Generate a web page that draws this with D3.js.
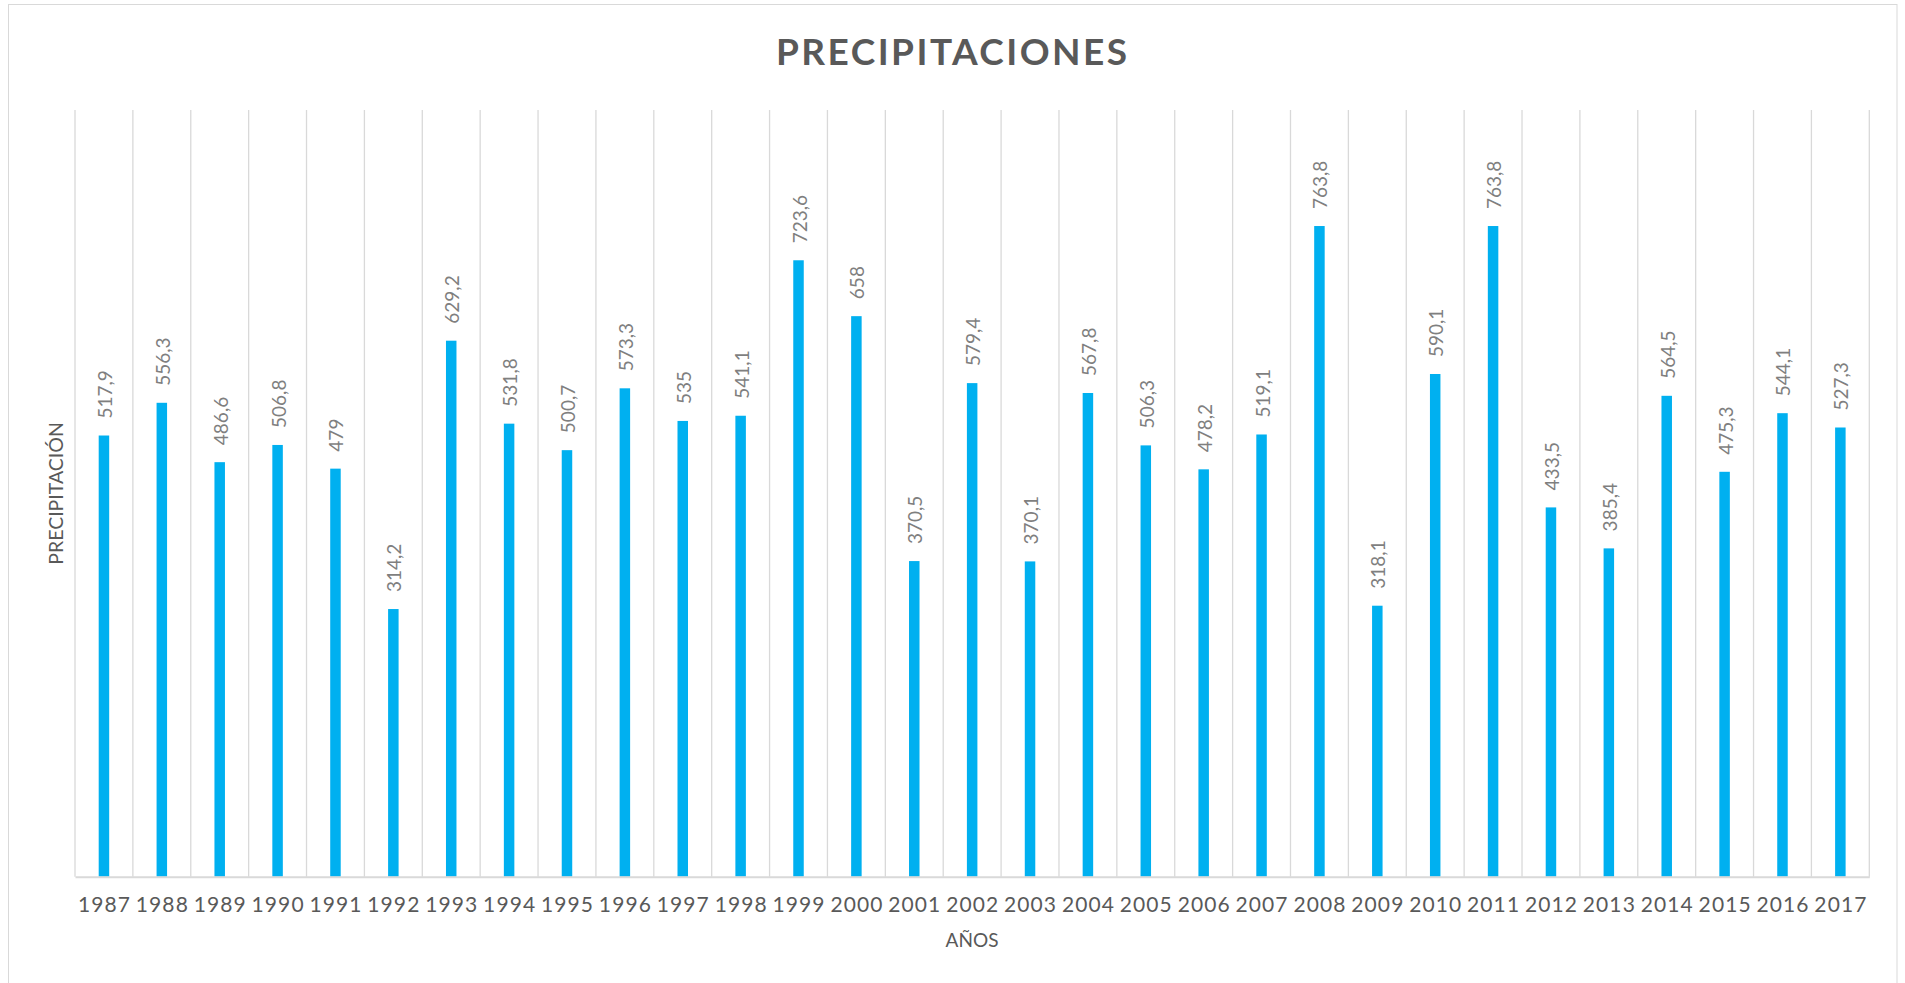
<!DOCTYPE html>
<html>
<head>
<meta charset="utf-8">
<script src="https://cdnjs.cloudflare.com/ajax/libs/d3/7.8.5/d3.min.js"></script>
<style>
  html, body { margin: 0; padding: 0; background: #fff; }
  svg { display: block; }
</style>
</head>
<body>
<svg id="chart" width="1905" height="983"></svg>
<script>
const years = ["1987","1988","1989","1990","1991","1992","1993","1994","1995","1996","1997","1998","1999","2000","2001","2002","2003","2004","2005","2006","2007","2008","2009","2010","2011","2012","2013","2014","2015","2016","2017"];
const precipitation = [517.9,556.3,486.6,506.8,479,314.2,629.2,531.8,500.7,573.3,535,541.1,723.6,658,370.5,579.4,370.1,567.8,506.3,478.2,519.1,763.8,318.1,590.1,763.8,433.5,385.4,564.5,475.3,544.1,527.3];
const yDomain = [0, 900];
const titleText = "PRECIPITACIONES";
const xTitle = "AÑOS";
const yTitle = "PRECIPITACIÓN";

(function () {
const fmt = v => String(v).replace(".", ",");
const font = "Lato, 'Open Sans', sans-serif";

const svg = d3.select("#chart");
const mLeft = 75, mRight = 1869.3, mTop = 110, mBottom = 876.7;

svg.append("rect").attr("x", 8.5).attr("y", 4.5).attr("width", 1888.5).attr("height", 990)
  .attr("fill", "#fff").attr("stroke", "#d9d9d9").attr("stroke-width", 1);

const x = d3.scaleBand().domain(years).range([mLeft, mRight]).paddingInner(0).paddingOuter(0);
const y = d3.scaleLinear().domain(yDomain).range([mBottom, mTop]);

// vertical gridlines at category boundaries
const bounds = years.map(d => x(d)).concat([x(years[years.length-1]) + x.bandwidth()]);
svg.append("g").selectAll("line").data(bounds).join("line")
  .attr("x1", d => d).attr("x2", d => d)
  .attr("y1", y(yDomain[1])).attr("y2", y(0))
  .attr("stroke", "#d9d9d9").attr("stroke-width", 1.3);

// bars
const barW = 10.5;
svg.append("g").selectAll("rect").data(precipitation).join("rect")
  .attr("x", (d, i) => x(years[i]) + x.bandwidth()/2 - barW/2)
  .attr("y", d => y(d))
  .attr("width", barW)
  .attr("height", d => y(0) - y(d))
  .attr("fill", "#00b0f0");

// baseline axis
const xAxis = d3.axisBottom(x).tickSize(0).tickPadding(0);
const gx = svg.append("g").attr("transform", `translate(0,${y(0)})`).call(xAxis);
gx.select(".domain").attr("stroke", "#d9d9d9").attr("stroke-width", 2);
gx.selectAll(".tick text")
  .attr("y", 35).attr("dy", 0)
  .attr("font-family", font).attr("font-size", 21).attr("fill", "#595959")
  .attr("textLength", 52).attr("lengthAdjust", "spacing");

// data labels
svg.append("g").selectAll("text").data(precipitation).join("text")
  .attr("transform", (d, i) => `translate(${x(years[i]) + x.bandwidth()/2 + 8},${y(d) - 17}) rotate(-90)`)
  .attr("text-anchor", "start")
  .attr("font-family", font).attr("font-size", 19).attr("fill", "#7f7f7f")
  .text(d => fmt(d));

// title
svg.append("text").attr("x", 951.5).attr("y", 65).attr("text-anchor", "middle")
  .attr("font-family", font).attr("font-weight", "bold").attr("font-size", 37)
  .attr("fill", "#595959").attr("textLength", 351).attr("lengthAdjust", "spacing")
  .text(titleText);

// axis titles
svg.append("text").attr("x", 972).attr("y", 946.5).attr("text-anchor", "middle")
  .attr("font-family", font).attr("font-size", 19).attr("fill", "#595959")
  .text(xTitle);
svg.append("text").attr("transform", "translate(63.3,493.5) rotate(-90)").attr("text-anchor", "middle")
  .attr("font-family", font).attr("font-size", 19.5).attr("fill", "#595959")
  .text(yTitle);
})();
</script>
</body>
</html>
